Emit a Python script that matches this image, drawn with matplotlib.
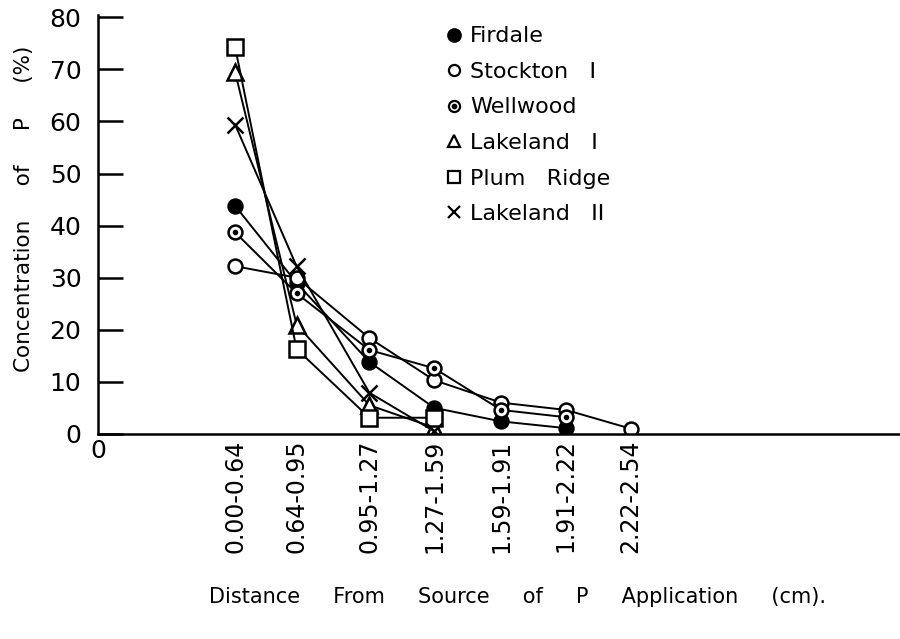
import numpy as np
import matplotlib.pyplot as plt
from matplotlib.lines import Line2D

plt.rcParams['font.family'] = ['DejaVu Sans']

# distance classes (cm) and their places along the axis
classes = ["0.00-0.64", "0.64-0.95", "0.95-1.27", "1.27-1.59",
           "1.59-1.91", "1.91-2.22", "2.22-2.54"]
class_pos = [2.05, 2.97, 4.06, 5.03, 6.03, 7.0, 7.97]

# concentration of P (%) per soil
firdale = [43.8, 29.0, 13.8, 5.0, 2.4, 1.1]
stockton1 = [32.2, 30.0, 18.4, 10.3, 6.0, 4.6, 1.0]
wellwood = [38.7, 27.0, 16.1, 12.6, 4.6, 3.2]
lakeland1 = [69.5, 21.0, 5.5, 1.2]
plum_ridge = [74.3, 16.3, 3.1, 3.1]
lakeland2 = [59.4, 32.2, 7.9, 0.5]

fig = plt.figure(figsize=(9, 6.39), dpi=100)
ax = fig.add_axes([0.109, 0.321, 0.891, 0.656])

line_kw = dict(color='black', lw=1.4, markeredgewidth=1.8)
ax.plot(class_pos[:len(firdale)], firdale, marker='o', ms=10, mfc='black',
        mec='black', **line_kw)
ax.plot(class_pos[:len(stockton1)], stockton1, marker='o', ms=10, mfc='white',
        mec='black', **line_kw)
ax.plot(class_pos[:len(wellwood)], wellwood, marker='o', ms=10, mfc='white',
        mec='black', **line_kw)
ax.plot(class_pos[:len(wellwood)], wellwood, ls='none', marker='o', ms=3,
        color='black')
ax.plot(class_pos[:len(lakeland1)], lakeland1, marker='^', ms=11, mfc='white',
        mec='black', **line_kw)
ax.plot(class_pos[:len(plum_ridge)], plum_ridge, marker='s', ms=11, mfc='white',
        mec='black', **line_kw)
ax.plot(class_pos[:len(lakeland2)], lakeland2, marker='x', ms=12,
        mec='black', **line_kw)

# legend: markers only
mk = dict(ls='none', color='black', mec='black', markeredgewidth=1.6)
h_fir = Line2D([], [], marker='o', ms=9, mfc='black', **mk)
h_sto = Line2D([], [], marker='o', ms=8, mfc='white', **mk)
h_wel = (Line2D([], [], marker='o', ms=8, mfc='white', **mk),
         Line2D([], [], marker='o', ms=2.5, mfc='black', **mk))
h_la1 = Line2D([], [], marker='^', ms=8, mfc='white', **mk)
h_plu = Line2D([], [], marker='s', ms=8, mfc='white', **mk)
h_la2 = Line2D([], [], marker='x', ms=9, **mk)
ax.legend([h_fir, h_sto, h_wel, h_la1, h_plu, h_la2],
          ['Firdale', 'Stockton   I', 'Wellwood', 'Lakeland   I',
           'Plum   Ridge', 'Lakeland   II'],
          loc='upper left', bbox_to_anchor=(0.41, 1.02),
          frameon=False, fontsize=16, handlelength=0.6, handletextpad=0.45,
          labelspacing=0.7)

ax.set_xlim(0, 12)
ax.set_ylim(0, 80.5)
ax.set_yticks(np.arange(0, 81, 10))
ax.set_yticklabels([str(v) for v in range(0, 81, 10)], fontsize=18)
ax.tick_params(axis='y', direction='in', length=18, width=1.8, pad=12)

ax.set_xticks([0] + class_pos)
ax.set_xticklabels(['0'] + classes, fontsize=17)
for i, t in enumerate(ax.get_xticklabels()):
    if i == 0:
        t.set_fontsize(18)
    else:
        t.set_rotation(90)
ax.tick_params(axis='x', length=0, pad=4)

for s in ['top', 'right']:
    ax.spines[s].set_visible(False)
for s in ['left', 'bottom']:
    ax.spines[s].set_linewidth(1.8)

ax.set_ylabel('Concentration     of     P     (%)', fontsize=15.5)
ax.yaxis.set_label_coords(-0.08, 0.537)
fig.text(0.575, 0.066, 'Distance     From     Source     of     P     Application     (cm).',
         ha='center', va='center', fontsize=15)

fig.savefig('out.png', dpi=100)
